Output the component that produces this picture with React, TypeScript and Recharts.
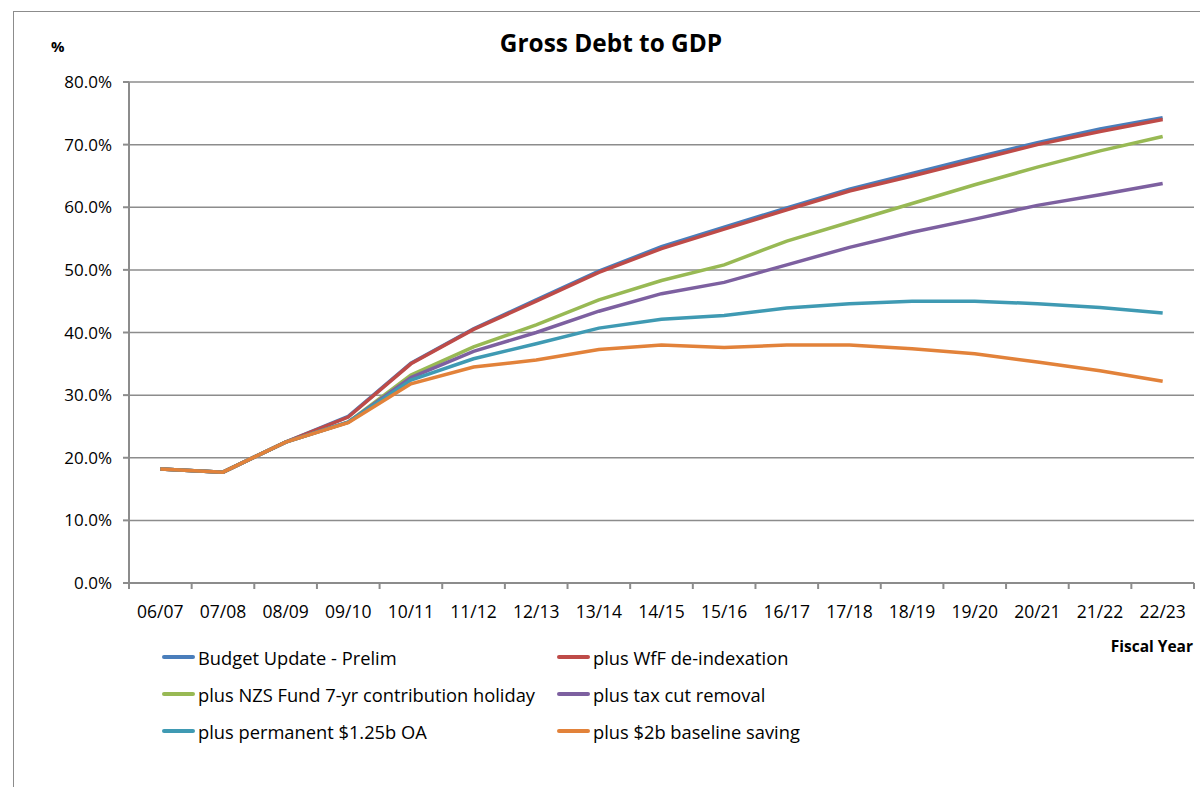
import { LineChart, Line, XAxis, YAxis, CartesianGrid } from 'recharts';

const YEARS = ['06/07', '07/08', '08/09', '09/10', '10/11', '11/12', '12/13', '13/14', '14/15', '15/16', '16/17', '17/18', '18/19', '19/20', '20/21', '21/22', '22/23'];

const budgetUpdate = [18.2, 17.7, 22.5, 26.6, 35.1, 40.6, 45.2, 49.8, 53.7, 56.8, 59.9, 62.9, 65.4, 67.9, 70.3, 72.5, 74.3];
const wffDeindex = [18.2, 17.7, 22.5, 26.5, 35.0, 40.5, 45.0, 49.6, 53.4, 56.5, 59.6, 62.6, 65.0, 67.5, 70.0, 72.1, 74.0];
const nzsHoliday = [18.2, 17.7, 22.5, 25.7, 33.2, 37.7, 41.2, 45.2, 48.3, 50.8, 54.6, 57.6, 60.6, 63.6, 66.4, 69.0, 71.3];
const taxCutRemoval = [18.2, 17.7, 22.5, 25.7, 32.8, 37.0, 40.0, 43.4, 46.2, 48.0, 50.8, 53.6, 56.0, 58.1, 60.3, 62.0, 63.8];
const permanentOA = [18.2, 17.7, 22.5, 25.7, 32.4, 35.8, 38.2, 40.7, 42.1, 42.7, 43.9, 44.6, 45.0, 45.0, 44.6, 44.0, 43.1];
const baselineSaving = [18.2, 17.7, 22.5, 25.6, 31.8, 34.5, 35.6, 37.3, 38.0, 37.6, 38.0, 38.0, 37.4, 36.6, 35.3, 33.9, 32.2];

const Y_TICKS = [0, 10, 20, 30, 40, 50, 60, 70, 80];

const SERIES = [
  { key: 'budget', name: 'Budget Update - Prelim', values: budgetUpdate, color: '#4A7EBB' },
  { key: 'wff', name: 'plus WfF de-indexation', values: wffDeindex, color: '#BE4B48' },
  { key: 'nzs', name: 'plus NZS Fund 7-yr contribution holiday', values: nzsHoliday, color: '#98B954' },
  { key: 'tax', name: 'plus tax cut removal', values: taxCutRemoval, color: '#7D60A0' },
  { key: 'oa', name: 'plus permanent $1.25b OA', values: permanentOA, color: '#3F9AB3' },
  { key: 'saving', name: 'plus $2b baseline saving', values: baselineSaving, color: '#E2823A' },
];

const FONT = '"Open Sans", sans-serif';
const GRID = '#8c8c8c';

const chartData = YEARS.map((year, i) => {
  const row: Record<string, number | string> = { year, x: i + 0.5 };
  SERIES.forEach((s) => {
    row[s.key] = s.values[i];
  });
  return row;
});

const boundaryTicks = YEARS.map((_y, i) => i).concat(YEARS.length);
const centerTicks = YEARS.map((_y, i) => i + 0.5);

export default function App() {
  return (
    <div style={{ position: 'absolute', left: 0, top: 0, width: 1200, height: 787, background: '#fff', fontFamily: FONT, overflow: 'hidden' }}>
      {/* chart frame */}
      <div style={{ position: 'absolute', left: 13, top: 11, width: 1200, height: 800, borderLeft: '1.5px solid #8c8c8c', borderTop: '1.5px solid #8c8c8c' }} />

      <div style={{ position: 'absolute', left: 0, top: 0 }}>
        <LineChart width={1200} height={787} data={chartData} margin={{ top: 82, right: 6, bottom: 163, left: 69 }}>
          <CartesianGrid vertical={false} stroke={GRID} strokeWidth={1.5} />
          <XAxis
            xAxisId="b"
            dataKey="x"
            type="number"
            domain={[0, YEARS.length]}
            ticks={boundaryTicks}
            tickFormatter={() => ''}
            stroke={GRID}
            strokeWidth={2}
            tickSize={6}
            height={1}
            allowDataOverflow
          />
          <XAxis
            xAxisId="l"
            dataKey="x"
            type="number"
            domain={[0, YEARS.length]}
            ticks={centerTicks}
            tickFormatter={(v: number) => YEARS[Math.floor(v)]}
            axisLine={false}
            tickLine={false}
            tickSize={0}
            tickMargin={22}
            height={40}
            interval={0}
            tick={{ fill: '#000', fontSize: 17.5, fontFamily: FONT }}
            allowDataOverflow
          />
          <YAxis
            type="number"
            domain={[0, 80]}
            ticks={Y_TICKS}
            tickFormatter={(v: number) => `${v.toFixed(1)}%`}
            stroke={GRID}
            strokeWidth={2}
            tickSize={6}
            tickMargin={11}
            width={60}
            interval={0}
            tick={{ fill: '#000', fontSize: 17, fontFamily: FONT }}
          />
          {SERIES.map((s) => (
            <Line
              key={s.key}
              xAxisId="b"
              type="linear"
              dataKey={s.key}
              name={s.name}
              stroke={s.color}
              strokeWidth={3.5}
              dot={false}
              activeDot={false}
              isAnimationActive={false}
            />
          ))}
        </LineChart>
      </div>

      {/* titles */}
      <div style={{ position: 'absolute', left: 0, width: 1222, top: 26, textAlign: 'center', fontWeight: 700, fontSize: 24.4 }}>
        Gross Debt to GDP
      </div>
      <div style={{ position: 'absolute', left: 51, top: 36, fontWeight: 700, fontSize: 15 }}>%</div>
      <div style={{ position: 'absolute', right: 7, top: 635, fontWeight: 700, fontSize: 15.5 }}>Fiscal Year</div>

      {/* legend */}
      {SERIES.map((s, i) => {
        const col = i % 2;
        const row = Math.floor(i / 2);
        const left = col === 0 ? 162 : 557;
        const top = 657 + row * 37;
        return (
          <div key={s.key} style={{ position: 'absolute', left, top: top - 13, height: 26, display: 'flex', alignItems: 'center', whiteSpace: 'nowrap' }}>
            <div style={{ width: 33, height: 4, background: s.color, borderRadius: 2, marginRight: 3 }} />
            <span style={{ fontSize: 18.3, color: '#000' }}>{s.name}</span>
          </div>
        );
      })}
    </div>
  );
}
